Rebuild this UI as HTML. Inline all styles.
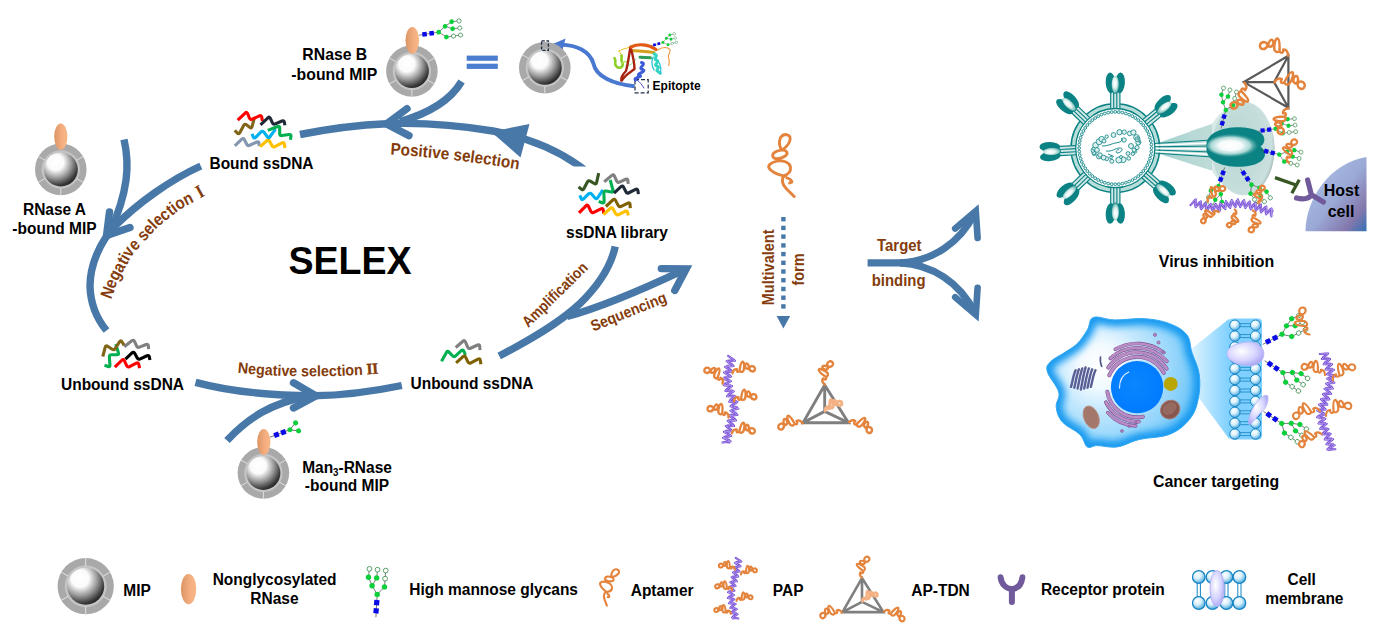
<!DOCTYPE html>
<html lang="en"><head><meta charset="utf-8"><title>SELEX multivalent aptamer scheme</title>
<style>
html,body{margin:0;padding:0;background:#fff;}
body{width:1380px;height:643px;overflow:hidden;}
svg{display:block;}
svg text{font-family:"Liberation Sans",sans-serif;font-weight:bold;}
</style></head><body>
<svg width="1380" height="643" viewBox="0 0 1380 643">
<defs>

<radialGradient id="gSphere" cx="0.37" cy="0.32" r="0.78" fx="0.34" fy="0.28">
  <stop offset="0" stop-color="#ffffff"/>
  <stop offset="0.30" stop-color="#fbfbfb"/>
  <stop offset="0.58" stop-color="#9a9a9a"/>
  <stop offset="0.84" stop-color="#383838"/>
  <stop offset="1" stop-color="#151515"/>
</radialGradient>
<linearGradient id="gRnase" x1="0" y1="0" x2="1" y2="0">
  <stop offset="0" stop-color="#dc9464"/>
  <stop offset="0.6" stop-color="#f4ae80"/>
  <stop offset="1" stop-color="#f8b888"/>
</linearGradient>
<g id="mip"><circle r="25.8" fill="#a9a9a9"/><circle r="19.200000000000003" fill="#c4c4c4"/><line x1="16.11" y1="9.30" x2="22.60" y2="13.05" stroke="#e4e4e4" stroke-width="0.9"/><line x1="0.00" y1="18.60" x2="0.00" y2="26.10" stroke="#e4e4e4" stroke-width="0.9"/><line x1="-16.11" y1="9.30" x2="-22.60" y2="13.05" stroke="#e4e4e4" stroke-width="0.9"/><line x1="-16.11" y1="-9.30" x2="-22.60" y2="-13.05" stroke="#e4e4e4" stroke-width="0.9"/><line x1="16.11" y1="-9.30" x2="22.60" y2="-13.05" stroke="#e4e4e4" stroke-width="0.9"/><circle r="17.0" fill="url(#gSphere)"/></g><g id="mipL"><circle r="25.8" fill="#a9a9a9"/><circle r="19.200000000000003" fill="#c4c4c4"/><line x1="16.11" y1="9.30" x2="22.60" y2="13.05" stroke="#e4e4e4" stroke-width="0.9"/><line x1="0.00" y1="18.60" x2="0.00" y2="26.10" stroke="#e4e4e4" stroke-width="0.9"/><line x1="-16.11" y1="9.30" x2="-22.60" y2="13.05" stroke="#e4e4e4" stroke-width="0.9"/><line x1="-16.11" y1="-9.30" x2="-22.60" y2="-13.05" stroke="#e4e4e4" stroke-width="0.9"/><line x1="16.11" y1="-9.30" x2="22.60" y2="-13.05" stroke="#e4e4e4" stroke-width="0.9"/><line x1="-0.00" y1="-18.60" x2="-0.00" y2="-26.10" stroke="#e4e4e4" stroke-width="0.9"/><circle r="17.0" fill="url(#gSphere)"/></g><g id="glycan"><line x1="0.0" y1="0.0" x2="1.3" y2="-22.9" stroke="#444" stroke-width="0.7"/><line x1="1.3" y1="-22.9" x2="-3.8" y2="-31.5" stroke="#444" stroke-width="0.7"/><line x1="1.3" y1="-22.9" x2="8.6" y2="-30.4" stroke="#444" stroke-width="0.7"/><line x1="-3.8" y1="-31.5" x2="-7.4" y2="-40.0" stroke="#444" stroke-width="0.7"/><line x1="-3.8" y1="-31.5" x2="0.8" y2="-39.4" stroke="#444" stroke-width="0.7"/><line x1="-7.4" y1="-40.0" x2="-6.5" y2="-48.4" stroke="#444" stroke-width="0.7"/><line x1="0.8" y1="-39.4" x2="1.6" y2="-47.6" stroke="#444" stroke-width="0.7"/><line x1="8.6" y1="-30.4" x2="9.2" y2="-38.6" stroke="#444" stroke-width="0.7"/><line x1="9.2" y1="-38.6" x2="9.8" y2="-46.7" stroke="#444" stroke-width="0.7"/><rect x="-2.4" y="-9.1" width="5.2" height="5.2" fill="#0a0ae6" transform="rotate(6 0.2 -6.5)"/><rect x="-1.8" y="-17.3" width="5.2" height="5.2" fill="#0a0ae6" transform="rotate(6 0.8 -14.7)"/><circle cx="1.3" cy="-22.9" r="2.7" fill="#0ccf3a"/><circle cx="-3.8" cy="-31.5" r="2.7" fill="#0ccf3a"/><circle cx="8.6" cy="-30.4" r="2.7" fill="#0ccf3a"/><circle cx="-7.4" cy="-40.0" r="2.7" fill="#0ccf3a"/><circle cx="0.8" cy="-39.4" r="2.7" fill="#0ccf3a"/><circle cx="-6.5" cy="-48.4" r="2.4" fill="#fff" stroke="#2f8a45" stroke-width="0.8"/><circle cx="1.6" cy="-47.6" r="2.4" fill="#fff" stroke="#2f8a45" stroke-width="0.8"/><circle cx="9.2" cy="-38.6" r="2.4" fill="#fff" stroke="#2f8a45" stroke-width="0.8"/><circle cx="9.8" cy="-46.7" r="2.4" fill="#fff" stroke="#2f8a45" stroke-width="0.8"/></g><g id="man3">
<line x1="0" y1="0" x2="21" y2="0" stroke="#444" stroke-width="0.7"/>
<line x1="21" y1="0" x2="28.5" y2="-4.2" stroke="#444" stroke-width="0.7"/>
<line x1="21" y1="0" x2="28.5" y2="3.8" stroke="#444" stroke-width="0.7"/>
<rect x="4.4" y="-2.5" width="5" height="5" fill="#0a0ae6"/>
<rect x="11.8" y="-2.5" width="5" height="5" fill="#0a0ae6"/>
<circle cx="21.3" cy="0" r="2.5" fill="#0ccf3a"/>
<circle cx="29" cy="-4.4" r="2.5" fill="#0ccf3a"/>
<circle cx="29" cy="4" r="2.5" fill="#0ccf3a"/>
</g><path id="apt" d="M0.00,0.00 L-7.84,-7.84 C-12.44,-12.81 -13.31,-16.79 -9.95,-21.14 M-17.41,-35.45 C-23.01,-34.20 -26.99,-31.09 -24.88,-27.99 C-23.01,-24.88 -15.30,-21.77 -11.07,-20.52 C-6.59,-21.77 -3.11,-24.25 -3.73,-29.23 C-4.35,-34.20 -10.57,-36.19 -17.41,-35.45Z M-21.52,-40.42 C-22.01,-43.53 -17.41,-46.02 -12.44,-46.39 C-6.84,-46.64 -5.60,-42.66 -9.33,-40.17 C-13.68,-37.31 -20.52,-36.69 -21.52,-40.42Z M-12.56,-46.64 C-16.54,-52.86 -14.93,-61.57 -8.71,-62.06 C-1.62,-61.57 -2.49,-53.86 -11.57,-46.64Z M-7.46,-18.66 C-4.98,-18.03 -2.49,-16.17 -2.36,-14.30 L-4.60,-13.56" fill="none" stroke="#e4843c" stroke-width="2.9" stroke-linecap="round" stroke-linejoin="round"/><path id="sapt" d="M0.00,0.00 C1.09,-2.92 3.44,-4.41 5.65,-3.31 C4.21,-1.11 5.61,0.62 7.96,-0.87 M7.96,-0.87 C9.46,-5.25 11.43,-10.36 13.44,-10.02 C15.36,-9.19 13.88,-3.05 12.36,-0.44 C10.67,1.25 8.71,0.67 7.96,-0.87Z M15.19,-5.29 C15.91,-7.71 17.90,-7.99 18.57,-6.04 C19.50,-3.57 18.50,-0.80 17.00,-1.25 C15.52,-1.86 14.61,-3.27 15.19,-5.29Z M19.11,-1.49 C19.77,-3.93 23.32,-3.75 24.65,-1.60 C25.65,0.46 24.14,3.07 22.13,2.74 C20.13,2.32 18.73,0.58 19.11,-1.49Z" fill="none" stroke-linecap="round" stroke-linejoin="round"/><clipPath id="clipPos"><rect x="280" y="100" width="320" height="66.4"/></clipPath>
<radialGradient id="gHead" cx="0.5" cy="0.5" r="0.5">
  <stop offset="0" stop-color="#e8f6f4"/>
  <stop offset="0.45" stop-color="#9fd2cf"/>
  <stop offset="1" stop-color="#0b8284"/>
</radialGradient>
<linearGradient id="gLobe" x1="0" y1="0" x2="1" y2="0">
  <stop offset="0" stop-color="#0b8284"/>
  <stop offset="0.5" stop-color="#d4eeeb"/>
  <stop offset="1" stop-color="#0b8284"/>
</linearGradient>
<linearGradient id="gCone" x1="0" y1="0" x2="1" y2="0">
  <stop offset="0" stop-color="#9fd0cc"/>
  <stop offset="1" stop-color="#c4dedc"/>
</linearGradient>
<radialGradient id="gBigEl" cx="0.38" cy="0.45" r="0.62">
  <stop offset="0" stop-color="#b4d4d2"/>
  <stop offset="0.7" stop-color="#cfe2e1"/>
  <stop offset="0.93" stop-color="#dfe9e9"/>
  <stop offset="1" stop-color="#a8b4b4"/>
</radialGradient>
<radialGradient id="gBigHi" cx="0.42" cy="0.5" r="0.5">
  <stop offset="0" stop-color="#ffffff"/>
  <stop offset="0.4" stop-color="#ffffff" stop-opacity="0.97"/>
  <stop offset="0.7" stop-color="#c8e8e5" stop-opacity="0.85"/>
  <stop offset="1" stop-color="#4aa6a4" stop-opacity="0"/>
</radialGradient>
<linearGradient id="gHost" x1="0.15" y1="0.2" x2="0.95" y2="1">
  <stop offset="0" stop-color="#a9bde3"/>
  <stop offset="0.45" stop-color="#9aa9d6"/>
  <stop offset="0.8" stop-color="#8478ac"/>
  <stop offset="1" stop-color="#3f72b4"/>
</linearGradient>

<radialGradient id="gSpHi" cx="0.45" cy="0.42" r="0.6">
  <stop offset="0" stop-color="#ffffff"/>
  <stop offset="0.45" stop-color="#e4f4f2"/>
  <stop offset="0.8" stop-color="#8cc8c4"/>
  <stop offset="1" stop-color="#3a9a98"/>
</radialGradient>
<g id="spike">
<rect x="-4.9" y="-55.5" width="9.8" height="16" fill="#cfe8e5"/>
<path d="M-4.6,-39.5 V-55.5 M-1.6,-39.5 V-55.5 M1.5,-39.5 V-55.5 M4.6,-39.5 V-55.5" stroke="#0b8284" stroke-width="1.15" fill="none"/>
<ellipse cx="-4.7" cy="-65.3" rx="4.9" ry="10.4" fill="#0b8284" transform="rotate(-4 -4.7 -65.3)"/>
<ellipse cx="4.7" cy="-65.3" rx="4.9" ry="10.4" fill="#0b8284" transform="rotate(4 4.7 -65.3)"/>
<ellipse cx="0" cy="-63" rx="5" ry="8.6" fill="#0b8284"/>
<ellipse cx="0" cy="-63.6" rx="3.6" ry="8.7" fill="url(#gSpHi)"/>
</g>
<radialGradient id="gCell" gradientUnits="userSpaceOnUse" cx="1100" cy="366" r="105" >
  <stop offset="0" stop-color="#ffffff"/>
  <stop offset="0.2" stop-color="#f2faff"/>
  <stop offset="0.45" stop-color="#bfe6fd"/>
  <stop offset="0.75" stop-color="#8fd3fb"/>
  <stop offset="1" stop-color="#5cbdf7"/>
</radialGradient>
<linearGradient id="gCone2" x1="0" y1="0" x2="1" y2="0">
  <stop offset="0" stop-color="#e2f5ff"/>
  <stop offset="1" stop-color="#7fd0ff"/>
</linearGradient>
<radialGradient id="gBall" cx="0.38" cy="0.32" r="0.7">
  <stop offset="0" stop-color="#ffffff"/>
  <stop offset="0.45" stop-color="#d9f0fb"/>
  <stop offset="1" stop-color="#4aa8dc"/>
</radialGradient>
<radialGradient id="gProt" cx="0.4" cy="0.4" r="0.65">
  <stop offset="0" stop-color="#ffffff"/>
  <stop offset="0.6" stop-color="#d6d4ff"/>
  <stop offset="1" stop-color="#a9a6f4"/>
</radialGradient>
<radialGradient id="gNuc" cx="0.45" cy="0.45" r="0.6">
  <stop offset="0" stop-color="#0a86ff"/>
  <stop offset="1" stop-color="#007aff"/>
</radialGradient>
<filter id="blur3" x="-20%" y="-20%" width="140%" height="140%"><feGaussianBlur stdDeviation="3.6"/></filter>
<clipPath id="cellClip"><path d="M1093.5,317.4 C1098.5,315.6 1105.3,319.7 1114.7,319.9 C1124.1,320.1 1134.6,318.0 1144.6,318.7 C1154.6,319.4 1161.6,320.6 1169.4,323.6 C1177.2,326.6 1182.8,329.6 1186.9,334.9 C1191.0,340.2 1189.6,345.0 1191.9,352.3 C1194.2,359.6 1198.2,366.0 1199.3,374.7 C1200.4,383.4 1199.9,391.4 1198.1,399.6 C1196.3,407.8 1194.7,413.1 1189.4,419.5 C1184.1,425.9 1178.5,430.8 1169.4,434.4 C1160.3,438.0 1149.2,437.1 1139.6,439.4 C1130.0,441.7 1125.0,445.8 1117.2,446.9 C1109.4,448.0 1102.8,445.6 1097.3,445.6 C1091.8,445.6 1090.5,449.0 1087.3,446.9 C1084.1,444.8 1084.4,439.0 1079.8,434.4 C1075.2,429.8 1066.7,427.0 1062.4,422.0 C1058.1,417.0 1056.9,412.5 1056.2,407.0 C1055.5,401.5 1060.3,398.5 1058.7,392.1 C1057.1,385.7 1049.1,377.7 1047.5,372.2 C1045.9,366.7 1046.8,365.8 1050.0,362.2 C1053.2,358.6 1059.9,355.7 1064.9,352.3 C1069.9,348.9 1073.2,347.7 1077.3,343.6 C1081.4,339.5 1084.3,334.7 1087.3,329.9 C1090.3,325.1 1088.5,319.2 1093.5,317.4Z"/></clipPath>
</defs>
<rect width="1380" height="643" fill="#fff"/>
<g id="selex-arrows">
<g clip-path="url(#clipPos)"><path d="M586,171 L580,166.5 C560,152 530,138 492.9,131 C460,125.5 420,122.5 387,123.7 C355,125 325,129.5 300,134.5" fill="none" stroke="#4878a8" stroke-width="7.4" stroke-linecap="butt" stroke-linejoin="round"/></g>
<path d="M491,131.8 L529.5,124 L520.5,157.5 Z" fill="#4878a8"/>
<path d="M461.6,81.5 C450,101 430,113 400,121.5" fill="none" stroke="#4878a8" stroke-width="7.4" stroke-linecap="butt" stroke-linejoin="round"/>
<path d="M407,108.6 L386.5,124 L409,135.6" fill="none" stroke="#4878a8" stroke-width="7.4" stroke-linecap="round" stroke-linejoin="miter"/>
<path d="M200.8,166 C170,180 138,203 115,226 C100,242 90,265 90,286 C90.5,305 97,319 106.5,330.5" fill="none" stroke="#4878a8" stroke-width="7.4" stroke-linecap="butt" stroke-linejoin="round"/>
<path d="M124,139.5 C130,165 128,192 110,232" fill="none" stroke="#4878a8" stroke-width="7.4" stroke-linecap="butt" stroke-linejoin="round"/>
<path d="M109.5,212 L106.5,235.5 L130,227.5" fill="none" stroke="#4878a8" stroke-width="7.4" stroke-linecap="round" stroke-linejoin="miter"/>
<path d="M195.5,382.3 C230,391.5 270,395.5 314,395.8 C345,395.5 375,391 401.8,385.5" fill="none" stroke="#4878a8" stroke-width="7.4" stroke-linecap="butt" stroke-linejoin="round"/>
<path d="M227,440.5 C248,418 272,402.5 308,396.5" fill="none" stroke="#4878a8" stroke-width="7.4" stroke-linecap="butt" stroke-linejoin="round"/>
<path d="M293.5,382.8 L316,395.8 L293.5,408" fill="none" stroke="#4878a8" stroke-width="7.4" stroke-linecap="round" stroke-linejoin="miter"/>
<path d="M499.2,356 C530,340 558,324 580,303.5 C599,285 611,266 615.2,246.5" fill="none" stroke="#4878a8" stroke-width="7.4" stroke-linecap="butt" stroke-linejoin="round"/>
<path d="M567,316.5 C598,308 638,291.5 683,270.3" fill="none" stroke="#4878a8" stroke-width="7.4" stroke-linecap="butt" stroke-linejoin="round"/>
<path d="M661.3,268.6 L686.2,268.8 L674.8,290.4" fill="none" stroke="#4878a8" stroke-width="7.4" stroke-linecap="round" stroke-linejoin="miter"/>
</g>
<rect x="466.7" y="55.6" width="31.1" height="5.2" fill="#4a7cd0"/>
<rect x="466.7" y="63.7" width="31.1" height="5.2" fill="#4a7cd0"/>
<path d="M634.6,86.2 C612,84 596,76 593.6,64 C590,51 576,45 561,44.6" fill="none" stroke="#4878d0" stroke-width="3.9"/>
<path d="M551.5,44.6 L565.6,38.6 L562.4,50.2 Z" fill="#4878d0"/>
<use href="#mip" transform="translate(60.8 169.4)"/>
<ellipse cx="60.8" cy="136.6" rx="6.6" ry="13.2" fill="url(#gRnase)"/>
<use href="#mip" transform="translate(411.9 71.0)"/>
<ellipse cx="412.3" cy="40.3" rx="6.8" ry="13.4" fill="url(#gRnase)"/>
<use href="#glycan" transform="translate(419.0 35.2) rotate(78.0) scale(0.870)"/>
<use href="#mip" transform="translate(544.8 67.7)"/>
<rect x="541.6" y="40.8" width="6.8" height="9.6" fill="none" stroke="#1f2e45" stroke-width="1.3" stroke-dasharray="3.2 1.6"/>
<use href="#mip" transform="translate(263.4 472.9)"/>
<ellipse cx="263.8" cy="442.0" rx="6.6" ry="13.0" fill="url(#gRnase)"/>
<use href="#man3" transform="translate(270.0 437.2) rotate(-20.5)"/>
<rect x="635" y="79.6" width="13.2" height="13.2" fill="none" stroke="#1f2e45" stroke-width="1.2" stroke-dasharray="4 2"/>
<g id="protein" fill="none" stroke-linecap="round" stroke-linejoin="round">
<path d="M619,51 C622,48.5 628,48.5 630,47" stroke="#f0c020" stroke-width="1"/>
<path d="M619,51 C621,54 622,55 621,57" stroke="#f0c020" stroke-width="1"/>
<path d="M614.5,58 C617,62 613,64 617,67 C621,69 624,66 622,62 C620,58 623,57 621.5,55.5" stroke="#8fd02a" stroke-width="2.6"/>
<path d="M622,63 C626,60 629,62 627,66" stroke="#b8e060" stroke-width="1.4"/>
<path d="M631,50.5 C640,51 648,51.5 654,52.5" stroke="#d4a01c" stroke-width="3"/>
<path d="M640,57.2 L650.5,57.8" stroke="#2f9d58" stroke-width="3"/>
<path d="M626,66 C630,66 633,63 636,59" stroke="#90e0a0" stroke-width="1"/>
<path d="M654,54 C660,55.5 652.5,58.5 656,60 C661.5,61.5 652.5,64.5 656.5,66 C662,67.5 654,70 658,71.5 L660.3,73.3" stroke="#34d4c4" stroke-width="2.9"/>
<path d="M653.2,57 C651,61.5 652,66.5 654,70 M659.5,63 C660.8,66 661,70 660.6,73.5" stroke="#2ec4d6" stroke-width="1.3"/>
<path d="M641.5,62.5 C647.5,64 637,68 642.5,69.5 C648,71.5 634.5,74 639.5,75.5 C644,77 632.5,77.5 635.5,80" stroke="#3c5cd8" stroke-width="3"/>
<path d="M637,80 C640,82 642,85 644,88" stroke="#4a4ad0" stroke-width="1"/>
<path d="M621.2,80.5 C621,77 623,74 626,71 C628.5,62 629,54 630.5,47 C633,56 634.5,64 634.5,69 C630,72.5 625.5,74.5 621.8,80.5" stroke="#a82410" stroke-width="2.4"/>
<path d="M631,47 C638,43.5 648,44 656,49.5" stroke="#e25a14" stroke-width="3.2"/>
<path d="M658,50 C662,46.5 668,47 670,49.5 C671,53 667,55 668.5,58 C670,60 669,63 668.8,65.5" stroke="#f09030" stroke-width="1.1"/>
</g>
<use href="#glycan" transform="translate(651.3 45.9) rotate(70.0) scale(0.530)"/>
<path d="M234.80,130.40 L237.20,132.99 Q238.70,134.60 239.75,132.66 L243.65,125.44 Q244.70,123.50 246.45,124.84 L249.75,127.36 Q251.50,128.70 252.05,126.57 L254.50,117.10" fill="none" stroke="#806517" stroke-width="3.1" stroke-linejoin="round"/>
<path d="M237.70,120.10 L245.20,113.01 Q246.80,111.50 247.61,113.55 L249.39,118.05 Q250.20,120.10 252.20,119.19 L259.40,115.91 Q261.40,115.00 261.76,117.17 L262.40,121.00" fill="none" stroke="#ff0000" stroke-width="3.1" stroke-linejoin="round"/>
<path d="M260.50,124.80 L267.90,117.81 Q269.50,116.30 270.40,118.31 L272.40,122.79 Q273.30,124.80 275.31,123.92 L281.99,120.98 Q284.00,120.10 284.38,122.27 L284.90,125.20" fill="none" stroke="#1f2937" stroke-width="3.1" stroke-linejoin="round"/>
<path d="M234.80,145.80 L241.81,139.12 Q243.40,137.60 244.38,139.57 L246.72,144.23 Q247.70,146.20 249.70,145.28 L256.80,142.02 Q258.80,141.10 258.97,143.29 L259.20,146.20" fill="none" stroke="#8497b0" stroke-width="3.1" stroke-linejoin="round"/>
<path d="M260.10,146.60 L266.93,140.73 Q268.60,139.30 269.62,141.25 L271.88,145.55 Q272.90,147.50 274.86,146.51 L282.04,142.89 Q284.00,141.90 284.33,144.08 L284.90,147.90" fill="none" stroke="#ffc000" stroke-width="3.1" stroke-linejoin="round"/>
<path d="M252.00,133.80 L253.26,136.87 Q254.10,138.90 255.66,137.34 L261.04,131.96 Q262.60,130.40 263.91,132.17 L267.29,136.73 Q268.60,138.50 269.90,136.73 L275.50,129.10" fill="none" stroke="#00b0f0" stroke-width="3.1" stroke-linejoin="round"/>
<path d="M267.80,130.40 L277.65,126.51 Q279.70,125.70 279.70,127.90 L279.70,133.70 Q279.70,135.90 281.88,135.58 L289.12,134.52 Q291.30,134.20 290.95,136.37 L290.40,139.80" fill="none" stroke="#00b050" stroke-width="3.1" stroke-linejoin="round"/>
<path d="M578.60,186.80 L581.19,189.20 Q582.80,190.70 583.82,188.75 L587.38,181.95 Q588.40,180.00 590.28,181.15 L594.22,183.55 Q596.10,184.70 596.58,182.55 L598.70,173.10" fill="none" stroke="#375623" stroke-width="3.1" stroke-linejoin="round"/>
<path d="M604.20,181.70 L611.90,175.39 Q613.60,174.00 614.47,176.02 L616.63,180.98 Q617.50,183.00 619.50,182.08 L625.70,179.22 Q627.70,178.30 627.90,180.49 L628.20,183.80" fill="none" stroke="#808080" stroke-width="3.1" stroke-linejoin="round"/>
<path d="M579.80,195.40 L581.13,198.48 Q582.00,200.50 583.56,198.94 L588.54,193.96 Q590.10,192.40 591.56,194.04 L595.04,197.96 Q596.50,199.60 597.70,197.76 L602.90,189.80" fill="none" stroke="#00b0f0" stroke-width="3.1" stroke-linejoin="round"/>
<path d="M610.20,180.00 L613.02,190.28 Q613.60,192.40 611.43,192.02 L605.97,191.08 Q603.80,190.70 603.87,192.90 L604.13,201.30 Q604.20,203.50 602.14,202.72 L598.70,201.40" fill="none" stroke="#00b050" stroke-width="3.1" stroke-linejoin="round"/>
<path d="M614.00,193.20 L621.00,186.61 Q622.60,185.10 623.58,187.07 L625.92,191.73 Q626.90,193.70 628.88,192.74 L635.62,189.46 Q637.60,188.50 637.91,190.68 L638.40,194.10" fill="none" stroke="#1f2937" stroke-width="3.1" stroke-linejoin="round"/>
<path d="M605.90,206.50 L612.90,199.91 Q614.50,198.40 615.53,200.35 L618.17,205.35 Q619.20,207.30 621.19,206.35 L627.91,203.15 Q629.90,202.20 630.05,204.40 L630.30,208.20" fill="none" stroke="#7f6000" stroke-width="3.1" stroke-linejoin="round"/>
<path d="M579.00,212.90 L585.95,205.86 Q587.50,204.30 588.45,206.29 L590.85,211.31 Q591.80,213.30 593.77,212.32 L600.93,208.78 Q602.90,207.80 603.23,209.98 L603.80,213.80" fill="none" stroke="#ff0000" stroke-width="3.1" stroke-linejoin="round"/>
<path d="M603.40,214.60 L610.27,208.38 Q611.90,206.90 612.96,208.83 L615.54,213.57 Q616.60,215.50 618.58,214.54 L625.32,211.26 Q627.30,210.30 627.68,212.47 L628.20,215.50" fill="none" stroke="#ffc000" stroke-width="3.1" stroke-linejoin="round"/>
<path d="M115.70,344.10 L118.43,352.70 Q119.10,354.80 116.90,354.80 L111.40,354.80 Q109.20,354.80 109.36,356.99 L109.94,365.01 Q110.10,367.20 108.04,366.43 L104.50,365.10" fill="none" stroke="#00b050" stroke-width="3.1" stroke-linejoin="round"/>
<path d="M102.80,356.50 L105.24,347.13 Q105.80,345.00 107.63,346.23 L112.17,349.27 Q114.00,350.50 115.18,348.64 L119.62,341.66 Q120.80,339.80 121.94,341.68 L124.20,345.40" fill="none" stroke="#806517" stroke-width="3.1" stroke-linejoin="round"/>
<path d="M124.20,346.70 L131.86,340.75 Q133.60,339.40 134.51,341.40 L136.59,346.00 Q137.50,348.00 139.54,347.18 L146.16,344.52 Q148.20,343.70 148.36,345.89 L148.60,349.20" fill="none" stroke="#808080" stroke-width="3.1" stroke-linejoin="round"/>
<path d="M114.80,367.20 L121.84,360.25 Q123.40,358.70 124.34,360.69 L126.66,365.61 Q127.60,367.60 129.56,366.59 L136.34,363.11 Q138.30,362.10 138.77,364.25 L139.60,368.10" fill="none" stroke="#ff0000" stroke-width="3.1" stroke-linejoin="round"/>
<path d="M125.50,359.10 L132.01,352.92 Q133.60,351.40 134.66,353.33 L137.24,357.97 Q138.30,359.90 140.29,358.95 L147.01,355.75 Q149.00,354.80 149.38,356.97 L149.90,359.90" fill="none" stroke="#000" stroke-width="3.1" stroke-linejoin="round"/>
<path d="M455.70,347.50 L462.94,341.24 Q464.60,339.80 465.44,341.83 L467.66,347.17 Q468.50,349.20 470.50,348.28 L477.60,345.02 Q479.60,344.10 479.75,346.30 L480.00,350.10" fill="none" stroke="#808080" stroke-width="3.1" stroke-linejoin="round"/>
<path d="M441.50,361.20 L446.42,352.42 Q447.50,350.50 449.01,352.10 L452.49,355.80 Q454.00,357.40 455.62,355.91 L461.28,350.69 Q462.90,349.20 463.83,351.20 L465.50,354.80" fill="none" stroke="#00b050" stroke-width="3.1" stroke-linejoin="round"/>
<path d="M456.10,362.90 L462.97,356.68 Q464.60,355.20 465.58,357.17 L467.92,361.83 Q468.90,363.80 470.86,362.81 L478.04,359.19 Q480.00,358.20 480.33,360.38 L480.90,364.20" fill="none" stroke="#7f6000" stroke-width="3.1" stroke-linejoin="round"/>
<text transform="translate(334.8 60.3) scale(0.925 1)" font-size="17.08" text-anchor="middle">RNase B</text>
<text transform="translate(334.3 80.1) scale(0.925 1)" font-size="17.08" text-anchor="middle">-bound MIP</text>
<text transform="translate(261.5 168.7) scale(0.925 1)" font-size="16.76" text-anchor="middle">Bound ssDNA</text>
<text transform="translate(54.5 215.3) scale(0.925 1)" font-size="16.76" text-anchor="middle">RNase A</text>
<text transform="translate(54.5 234.2) scale(0.925 1)" font-size="16.76" text-anchor="middle">-bound MIP</text>
<text transform="translate(350 273.7) scale(0.95 1)" font-size="39.58" text-anchor="middle">SELEX</text>
<text transform="translate(122.5 389.5) scale(0.925 1)" font-size="16.76" text-anchor="middle">Unbound ssDNA</text>
<text transform="translate(472 388.8) scale(0.925 1)" font-size="16.76" text-anchor="middle">Unbound ssDNA</text>
<text transform="translate(617 238) scale(0.925 1)" font-size="16.76" text-anchor="middle">ssDNA library</text>
<text transform="translate(347 473) scale(0.925 1)" font-size="16.76" text-anchor="middle">Man<tspan font-size="10.5" dy="3.2">3</tspan><tspan dy="-3.2">-RNase</tspan></text>
<text transform="translate(347 491.3) scale(0.925 1)" font-size="16.76" text-anchor="middle">-bound MIP</text>
<text transform="translate(652.6 90) scale(0.925 1)" font-size="12.97" text-anchor="start">Epitopte</text>
<path id="posP" d="M390.2,154.5 Q455,158.6 521,169.8" fill="none"/>
<text font-size="16.8" fill="#843c0c" textLength="129.5" lengthAdjust="spacingAndGlyphs"><textPath href="#posP">Positive selection</textPath></text>
<path id="negI" d="M106.5,312.0 C107.9,307.9 104.5,314.8 110.8,299.8 C117.1,284.8 114.1,286.7 125.5,267.1 C136.9,247.5 129.9,257.9 145.1,241.0 C160.3,224.1 153.8,230.1 171.2,216.5 C188.6,202.9 184.2,207.8 197.3,200.2 C210.4,192.6 201.2,198.1 210.4,193.7 C219.6,189.3 220.1,189.2 225.0,187.0" fill="none"/>
<text font-size="17.2" fill="#843c0c" textLength="145" lengthAdjust="spacingAndGlyphs"><textPath href="#negI" startOffset="13">Negative selection <tspan font-family="Liberation Serif,serif" font-size="19" dx="2">I</tspan></textPath></text>
<path id="negII" d="M237.6,372.8 Q305,379.6 380,373.4" fill="none"/>
<text font-size="15.3" fill="#843c0c" textLength="141" lengthAdjust="spacingAndGlyphs"><textPath href="#negII">Negative selection <tspan font-family="Liberation Serif,serif" font-size="15.5" stroke="#843c0c" stroke-width="0.5">II</tspan></textPath></text>
<text transform="translate(528.3 328.0) rotate(-44.5) scale(0.87 1)" font-size="15.40" fill="#843c0c" text-anchor="start">Amplification</text>
<text transform="translate(593.2 331.4) rotate(-21.8) scale(0.925 1)" font-size="15.35" fill="#843c0c" text-anchor="start">Sequencing</text>
<use href="#apt" transform="translate(794.2 196.5)"/>
<rect x="781.2" y="217.0" width="4.4" height="4.4" fill="#4878a8"/><rect x="781.2" y="225.7" width="4.4" height="4.4" fill="#4878a8"/><rect x="781.2" y="234.4" width="4.4" height="4.4" fill="#4878a8"/><rect x="781.2" y="243.2" width="4.4" height="4.4" fill="#4878a8"/><rect x="781.2" y="251.9" width="4.4" height="4.4" fill="#4878a8"/><rect x="781.2" y="260.6" width="4.4" height="4.4" fill="#4878a8"/><rect x="781.2" y="269.3" width="4.4" height="4.4" fill="#4878a8"/><rect x="781.2" y="278.0" width="4.4" height="4.4" fill="#4878a8"/><rect x="781.2" y="286.8" width="4.4" height="4.4" fill="#4878a8"/><rect x="781.2" y="295.5" width="4.4" height="4.4" fill="#4878a8"/><rect x="781.2" y="304.2" width="4.4" height="4.4" fill="#4878a8"/>
<path d="M776.6,316 L790.2,316 L783.4,328.6 Z" fill="#4878a8"/>
<text transform="translate(774.3 305.2) rotate(-90) scale(0.925 1)" font-size="15.68" fill="#843c0c" text-anchor="start">Multivalent</text>
<text transform="translate(803.7 285.6) rotate(-90) scale(0.925 1)" font-size="15.68" fill="#843c0c" text-anchor="start">form</text>
<g transform="translate(695 350) scale(1.0)"><path d="M37.0,7.0L36.7,8.0L36.5,8.9L36.2,9.9L35.9,10.8L35.6,11.8L35.4,12.8L35.1,13.7L34.8,14.7L34.6,15.7L34.3,16.6L34.1,17.6L33.8,18.6L33.6,19.5L33.4,20.5L33.2,21.5L33.0,22.5L32.7,23.4L32.5,24.4L32.3,25.4L32.2,26.4L32.0,27.4L32.0,28.4L31.9,29.4L32.0,30.4L32.0,31.4L32.2,32.4L32.3,33.4L32.6,34.3L32.8,35.3L33.1,36.3L33.4,37.2L33.7,38.2L34.0,39.1L34.3,40.1L34.6,41.0L34.9,42.0L35.2,42.9L35.5,43.9L35.8,44.9L36.1,45.8L36.4,46.7L36.8,47.7L37.1,48.6L37.5,49.5L37.9,50.5L38.2,51.4L38.5,52.4L38.8,53.3L39.1,54.3L39.3,55.3L39.4,56.2L39.5,57.2L39.5,58.2L39.5,59.2L39.4,60.2L39.2,61.2L39.0,62.2L38.8,63.2L38.6,64.2L38.4,65.1L38.1,66.1L37.8,67.1L37.5,68.0L37.3,69.0L37.0,69.9L36.7,70.9L36.5,71.9L36.1,72.8L35.8,73.8L35.5,74.7L35.1,75.6L34.8,76.6L34.4,77.5L34.1,78.5L33.8,79.4L33.5,80.4L33.2,81.3L32.9,82.3L32.7,83.3L32.5,84.2L32.4,85.2L32.2,86.2L32.1,87.2L32.0,88.2L31.9,89.2L31.8,90.2L31.7,91.2L31.6,92.2L31.5,93.0" fill="none" stroke="#ece5fb" stroke-width="5.6"/><path d="M39.9,9.3L32.6,10.1L38.4,14.6L31.1,15.6L37.0,19.9L29.8,21.1L35.8,25.3L28.7,27.1L35.3,30.0L28.9,33.6L36.2,34.8L30.5,39.4L37.8,40.0L32.2,44.7L39.5,45.2L34.1,50.2L41.5,50.5L35.8,55.1L42.9,56.9L36.0,59.5L42.3,63.3L35.0,64.4L40.8,68.9L33.5,69.8L39.2,74.5L31.8,74.8L37.2,79.8L29.9,80.4L35.9,84.6L28.8,86.4L35.2,89.9L28.2,92.0L34.9,93.4" fill="none" stroke="#8e6be2" stroke-width="0.9" stroke-linejoin="round"/><path d="M33.1,5.9L40.1,10.8L31.6,11.3L38.6,16.1L30.1,16.8L37.3,21.4L28.9,22.4L36.2,26.6L27.9,28.7L36.0,31.1L28.7,35.3L37.1,35.9L30.3,40.9L38.8,41.2L32.0,46.3L40.5,46.2L34.1,51.7L42.5,51.8L35.4,56.3L43.5,58.6L35.3,60.6L42.5,64.9L34.1,65.6L41.0,70.4L32.6,70.8L39.2,76.1L30.7,75.9L37.4,81.2L28.9,81.8L36.3,86.0L28.0,87.8L35.7,91.4L27.5,92.5" fill="none" stroke="#6b3ed2" stroke-width="2.0" stroke-linejoin="round" stroke-linecap="round"/><path d="M33.1,5.9L40.1,10.8L31.6,11.3L38.6,16.1L30.1,16.8L37.3,21.4L28.9,22.4L36.2,26.6L27.9,28.7L36.0,31.1L28.7,35.3L37.1,35.9L30.3,40.9L38.8,41.2L32.0,46.3L40.5,46.2L34.1,51.7L42.5,51.8L35.4,56.3L43.5,58.6L35.3,60.6L42.5,64.9L34.1,65.6L41.0,70.4L32.6,70.8L39.2,76.1L30.7,75.9L37.4,81.2L28.9,81.8L36.3,86.0L28.0,87.8L35.7,91.4L27.5,92.5" fill="none" stroke="#e6defa" stroke-width="0.55" stroke-linejoin="round" stroke-linecap="round"/><use href="#sapt" transform="translate(37.5 23.3) rotate(-12.0) scale(0.920)" stroke="#e4843c" stroke-width="2.61"/><use href="#sapt" transform="translate(39.0 51.3) rotate(-12.0) scale(0.920)" stroke="#e4843c" stroke-width="2.61"/><use href="#sapt" transform="translate(37.0 83.2) rotate(-6.0) scale(0.920)" stroke="#e4843c" stroke-width="2.61"/><use href="#sapt" transform="translate(27.5 33.5) rotate(220.0) scale(0.920 -0.920)" stroke="#e4843c" stroke-width="2.61"/><use href="#sapt" transform="translate(33.5 67.5) rotate(205.0) scale(0.920 -0.920)" stroke="#e4843c" stroke-width="2.61"/></g>
<g transform="translate(770 350) scale(1.0)"><path d="M54.7,35 L33,72.8 L78.5,72.8 Z M54.7,35 L54.7,61.4 M33,72.8 L54.7,61.4 M78.5,72.8 L54.7,61.4" fill="none" stroke="#7f7f7f" stroke-width="2.9" stroke-linejoin="miter"/><use href="#sapt" transform="translate(55.2 60.9) rotate(-27.0) scale(0.740)" stroke="#f4b183" stroke-width="4.05"/><use href="#sapt" transform="translate(54.7 34.5) rotate(-74.5) scale(0.960)" stroke="#e4843c" stroke-width="2.50"/><use href="#sapt" transform="translate(32.5 73.3) rotate(170.5) scale(0.980 -0.980)" stroke="#e4843c" stroke-width="2.45"/><use href="#sapt" transform="translate(79.0 72.3) rotate(21.5) scale(0.980)" stroke="#e4843c" stroke-width="2.45"/></g>
<path d="M867.6,262.9 L917,262.9" fill="none" stroke="#4878a8" stroke-width="7.2" stroke-linecap="butt" stroke-linejoin="round"/>
<path d="M900,262.9 C932,261.5 960,243 974.5,213.5" fill="none" stroke="#4878a8" stroke-width="7.2" stroke-linecap="butt" stroke-linejoin="round"/>
<path d="M900,262.9 C932,264.3 960,282.8 974.5,312.3" fill="none" stroke="#4878a8" stroke-width="7.2" stroke-linecap="butt" stroke-linejoin="round"/>
<path d="M955.2,228.6 L975.8,211 L977.6,238" fill="none" stroke="#4878a8" stroke-width="6.6" stroke-linecap="round" stroke-linejoin="miter"/>
<path d="M955.2,297.2 L975.8,314.8 L977.6,287.8" fill="none" stroke="#4878a8" stroke-width="6.6" stroke-linecap="round" stroke-linejoin="miter"/>
<text transform="translate(899.3 250.9) scale(0.925 1)" font-size="16.11" fill="#843c0c" text-anchor="middle">Target</text>
<text transform="translate(898.6 286) scale(0.925 1)" font-size="16.11" fill="#843c0c" text-anchor="middle">binding</text>
<g id="virus">
<path d="M1158,143 L1212,124 L1212,170.5 L1158,153.5 Z" fill="url(#gCone)"/>
<ellipse cx="1243.2" cy="148.6" rx="31.4" ry="46.6" fill="url(#gBigEl)"/>
<path d="M1212,124 C1222,108 1236,101.5 1246,102 C1262,103 1273,122 1274.4,148 C1273,176 1262,194 1246,195.2 C1236,195.5 1222,189 1212,170.5 L1190,164 L1190,131 Z" fill="#b9d9d6" opacity="0.55"/>
<circle cx="1115.3" cy="148.1" r="44.3" fill="#b8deda" stroke="#0b8284" stroke-width="1.5"/>
<use href="#spike" transform="translate(1115.3 148.1) rotate(0)"/>
<use href="#spike" transform="translate(1115.3 148.1) rotate(50.5)"/>
<use href="#spike" transform="translate(1115.3 148.1) rotate(131.6)"/>
<use href="#spike" transform="translate(1115.3 148.1) rotate(180)"/>
<use href="#spike" transform="translate(1115.3 148.1) rotate(226)"/>
<use href="#spike" transform="translate(1115.3 148.1) rotate(267)"/>
<use href="#spike" transform="translate(1115.3 148.1) rotate(313.5)"/>
<path d="M1154,143.5 L1212,140 M1154,146.8 L1212,146 M1154,150 L1212,152 M1154,153 L1212,157" stroke="#0b8284" stroke-width="1.2" fill="none"/>
<path d="M1154,145.2 L1212,143 M1154,148.4 L1212,149 M1154,151.5 L1212,154.5" stroke="#ffffff" stroke-width="1.6" fill="none"/>
<circle cx="1115.3" cy="148.1" r="39.6" fill="#ffffff" stroke="#0b8284" stroke-width="1.3"/>
<g fill="#eef8f7" stroke="#0b8284" stroke-width="0.85"><circle cx="1151.50" cy="148.10" r="1.4"/><circle cx="1151.33" cy="151.65" r="1.4"/><circle cx="1150.80" cy="155.16" r="1.4"/><circle cx="1149.94" cy="158.61" r="1.4"/><circle cx="1148.74" cy="161.95" r="1.4"/><circle cx="1147.23" cy="165.16" r="1.4"/><circle cx="1145.40" cy="168.21" r="1.4"/><circle cx="1143.28" cy="171.07" r="1.4"/><circle cx="1140.90" cy="173.70" r="1.4"/><circle cx="1138.27" cy="176.08" r="1.4"/><circle cx="1135.41" cy="178.20" r="1.4"/><circle cx="1132.36" cy="180.03" r="1.4"/><circle cx="1129.15" cy="181.54" r="1.4"/><circle cx="1125.81" cy="182.74" r="1.4"/><circle cx="1122.36" cy="183.60" r="1.4"/><circle cx="1118.85" cy="184.13" r="1.4"/><circle cx="1115.30" cy="184.30" r="1.4"/><circle cx="1111.75" cy="184.13" r="1.4"/><circle cx="1108.24" cy="183.60" r="1.4"/><circle cx="1104.79" cy="182.74" r="1.4"/><circle cx="1101.45" cy="181.54" r="1.4"/><circle cx="1098.24" cy="180.03" r="1.4"/><circle cx="1095.19" cy="178.20" r="1.4"/><circle cx="1092.33" cy="176.08" r="1.4"/><circle cx="1089.70" cy="173.70" r="1.4"/><circle cx="1087.32" cy="171.07" r="1.4"/><circle cx="1085.20" cy="168.21" r="1.4"/><circle cx="1083.37" cy="165.16" r="1.4"/><circle cx="1081.86" cy="161.95" r="1.4"/><circle cx="1080.66" cy="158.61" r="1.4"/><circle cx="1079.80" cy="155.16" r="1.4"/><circle cx="1079.27" cy="151.65" r="1.4"/><circle cx="1079.10" cy="148.10" r="1.4"/><circle cx="1079.27" cy="144.55" r="1.4"/><circle cx="1079.80" cy="141.04" r="1.4"/><circle cx="1080.66" cy="137.59" r="1.4"/><circle cx="1081.86" cy="134.25" r="1.4"/><circle cx="1083.37" cy="131.04" r="1.4"/><circle cx="1085.20" cy="127.99" r="1.4"/><circle cx="1087.32" cy="125.13" r="1.4"/><circle cx="1089.70" cy="122.50" r="1.4"/><circle cx="1092.33" cy="120.12" r="1.4"/><circle cx="1095.19" cy="118.00" r="1.4"/><circle cx="1098.24" cy="116.17" r="1.4"/><circle cx="1101.45" cy="114.66" r="1.4"/><circle cx="1104.79" cy="113.46" r="1.4"/><circle cx="1108.24" cy="112.60" r="1.4"/><circle cx="1111.75" cy="112.07" r="1.4"/><circle cx="1115.30" cy="111.90" r="1.4"/><circle cx="1118.85" cy="112.07" r="1.4"/><circle cx="1122.36" cy="112.60" r="1.4"/><circle cx="1125.81" cy="113.46" r="1.4"/><circle cx="1129.15" cy="114.66" r="1.4"/><circle cx="1132.36" cy="116.17" r="1.4"/><circle cx="1135.41" cy="118.00" r="1.4"/><circle cx="1138.27" cy="120.12" r="1.4"/><circle cx="1140.90" cy="122.50" r="1.4"/><circle cx="1143.28" cy="125.13" r="1.4"/><circle cx="1145.40" cy="127.99" r="1.4"/><circle cx="1147.23" cy="131.04" r="1.4"/><circle cx="1148.74" cy="134.25" r="1.4"/><circle cx="1149.94" cy="137.59" r="1.4"/><circle cx="1150.80" cy="141.04" r="1.4"/><circle cx="1151.33" cy="144.55" r="1.4"/></g>
<g fill="#dff1ef" stroke="#0b8284" stroke-width="0.8"><circle cx="1138.3" cy="142.5" r="2.5"/><circle cx="1137.0" cy="147.6" r="2.1"/><circle cx="1135.0" cy="151.5" r="1.7"/><circle cx="1132.8" cy="153.8" r="1.7"/><circle cx="1128.7" cy="158.4" r="1.8"/><circle cx="1123.2" cy="159.7" r="2.9"/><circle cx="1118.8" cy="160.0" r="3.0"/><circle cx="1111.8" cy="161.3" r="2.0"/><circle cx="1106.7" cy="158.7" r="2.0"/><circle cx="1103.6" cy="157.6" r="2.4"/><circle cx="1098.9" cy="156.5" r="2.4"/><circle cx="1094.3" cy="153.7" r="1.9"/><circle cx="1093.9" cy="152.6" r="2.0"/><circle cx="1093.0" cy="150.3" r="2.0"/><circle cx="1094.2" cy="148.4" r="1.9"/><circle cx="1095.6" cy="145.2" r="2.8"/><circle cx="1099.2" cy="141.7" r="3.0"/><circle cx="1101.7" cy="139.1" r="2.7"/><circle cx="1106.7" cy="136.6" r="1.7"/><circle cx="1113.5" cy="135.0" r="2.4"/><circle cx="1119.5" cy="132.2" r="2.6"/><circle cx="1124.2" cy="132.1" r="2.2"/><circle cx="1129.7" cy="133.4" r="2.3"/><circle cx="1133.4" cy="132.5" r="2.6"/><circle cx="1136.5" cy="137.4" r="2.8"/><circle cx="1137.6" cy="139.2" r="2.5"/><circle cx="1097" cy="150" r="2.4"/><circle cx="1100" cy="155" r="2.2"/><circle cx="1131" cy="146" r="2.5"/><circle cx="1134" cy="150" r="2.0"/><circle cx="1128" cy="153.5" r="1.9"/><circle cx="1104" cy="141" r="2.0"/><circle cx="1124" cy="140" r="2.2"/><circle cx="1138" cy="139" r="1.2"/><circle cx="1140" cy="142" r="1.0"/><circle cx="1111" cy="157.5" r="1.4"/><circle cx="1121" cy="157" r="1.5"/></g>
<path d="M1102,146 C1108,146.5 1112,143 1118,142.5 C1122,142 1123,139 1121,138 M1106,151 C1112,152 1115,148 1120,148 C1124,148 1122,152 1118,153 C1115,153.5 1116,150 1119,149.5 M1108,154 L1114,156.5" fill="none" stroke="#0b8284" stroke-width="0.9"/>
<path d="M1206.6,147 C1205,136 1217,128 1236,127.3 C1254,127 1264.5,132.5 1264.4,139.5 C1264.3,143 1262.8,145 1260.5,146.6 C1263,148.3 1264.8,150.5 1265,154 C1265.2,161.5 1254,167.3 1236,166.8 C1217,166 1205,158 1206.6,147Z" fill="#0b8284"/>
<ellipse cx="1235" cy="145.6" rx="28" ry="12" fill="url(#gBigHi)"/>
</g>
<use href="#glycan" transform="translate(1221.1 128.5) rotate(11.0) scale(0.830)"/>
<use href="#glycan" transform="translate(1257.5 131.3) rotate(78.7) scale(0.800)"/>
<use href="#glycan" transform="translate(1261.0 150.1) rotate(100.5) scale(0.820)"/>
<use href="#glycan" transform="translate(1224.6 167.5) rotate(195.0) scale(0.850)"/>
<use href="#glycan" transform="translate(1240.3 168.5) rotate(142.0) scale(0.860)"/>
<path d="M1288.4,55.7 L1243.8,82.1 L1288.4,107.8 Z M1274.1,82.1 L1288.4,55.7 M1274.1,82.1 L1243.8,82.1 M1274.1,82.1 L1288.4,107.8" fill="none" stroke="#595959" stroke-width="2.2" stroke-linejoin="miter"/>
<use href="#sapt" transform="translate(1288.0 55.7) rotate(201.7) scale(1.200 -1.200)" stroke="#e4843c" stroke-width="2.08"/>
<use href="#sapt" transform="translate(1274.5 82.3) rotate(7.0) scale(1.220)" stroke="#e4843c" stroke-width="2.05"/>
<use href="#sapt" transform="translate(1244.4 82.8) rotate(115.6) scale(1.130)" stroke="#e4843c" stroke-width="2.21"/>
<use href="#sapt" transform="translate(1288.3 108.6) rotate(108.0) scale(1.070 -1.070)" stroke="#e4843c" stroke-width="2.34"/>
<use href="#sapt" transform="translate(1289.0 162.7) rotate(-75.3) scale(0.960)" stroke="#e4843c" stroke-width="2.40"/>
<use href="#sapt" transform="translate(1208.0 201.5) rotate(-41.0) scale(0.880)" stroke="#e4843c" stroke-width="2.61"/>
<use href="#sapt" transform="translate(1260.9 205.5) rotate(-84.5) scale(0.800)" stroke="#e4843c" stroke-width="2.87"/>
<path d="M1191.8,201.7L1192.7,202.1L1193.7,202.4L1194.6,202.8L1195.5,203.2L1196.4,203.6L1197.4,203.9L1198.3,204.3L1199.2,204.7L1200.2,205.0L1201.1,205.3L1202.1,205.7L1203.0,205.9L1204.0,206.2L1205.0,206.4L1205.9,206.6L1206.9,206.8L1207.9,207.0L1208.9,207.2L1209.9,207.3L1210.9,207.5L1211.9,207.6L1212.9,207.6L1213.9,207.7L1214.9,207.7L1215.9,207.6L1216.9,207.5L1217.8,207.4L1218.8,207.2L1219.8,206.9L1220.8,206.7L1221.7,206.4L1222.7,206.1L1223.6,205.7L1224.6,205.4L1225.5,205.1L1226.5,204.9L1227.4,204.6L1228.4,204.4L1229.4,204.2L1230.4,204.0L1231.4,203.9L1232.4,203.7L1233.3,203.5L1234.3,203.4L1235.3,203.3L1236.3,203.2L1237.3,203.2L1238.3,203.2L1239.3,203.2L1240.3,203.3L1241.3,203.4L1242.3,203.6L1243.3,203.8L1244.3,203.9L1245.3,204.2L1246.2,204.4L1247.2,204.6L1248.2,204.8L1249.2,205.0L1250.1,205.3L1251.1,205.5L1252.1,205.7L1253.0,206.0L1254.0,206.2L1255.0,206.5L1255.9,206.8L1256.9,207.0L1257.9,207.3L1258.8,207.6L1259.8,208.0L1260.7,208.3L1261.6,208.6L1262.6,209.0L1263.5,209.3L1264.5,209.7L1265.4,210.0L1266.3,210.4L1267.2,210.8L1268.2,211.1L1269.1,211.5L1270.0,211.9L1271.0,212.2L1271.9,212.6L1272.7,212.9" fill="none" stroke="#ece5fb" stroke-width="5.2"/><path d="M1194.3,199.3L1194.5,206.2L1199.4,201.3L1199.9,208.3L1204.4,203.0L1205.7,209.8L1209.5,204.1L1211.6,210.7L1214.6,204.5L1217.9,210.6L1219.3,203.8L1223.8,209.0L1224.6,202.1L1228.8,207.6L1230.4,200.8L1234.2,206.6L1236.4,200.0L1239.2,206.4L1242.6,200.4L1244.2,207.2L1248.3,201.6L1249.6,208.4L1253.8,202.9L1254.9,209.8L1259.4,204.5L1260.0,211.4L1264.8,206.4L1265.2,213.4L1270.1,208.4L1270.4,215.4L1273.8,209.9" fill="none" stroke="#8e6be2" stroke-width="0.9" stroke-linejoin="round"/><path d="M1190.5,205.2L1195.8,199.3L1195.6,207.3L1200.9,201.3L1201.1,209.3L1205.8,202.8L1207.0,210.7L1210.9,203.7L1213.1,211.4L1215.8,203.9L1219.7,210.8L1220.4,202.8L1225.3,209.1L1225.9,201.1L1230.3,207.9L1231.8,200.0L1235.5,207.1L1237.9,199.4L1240.3,207.1L1244.2,200.1L1245.4,208.0L1249.8,201.3L1250.8,209.3L1255.4,202.7L1256.0,210.7L1261.0,204.4L1261.1,212.4L1266.4,206.4L1266.2,214.4L1271.6,208.4L1271.4,216.4" fill="none" stroke="#6b3ed2" stroke-width="2.0" stroke-linejoin="round" stroke-linecap="round"/><path d="M1190.5,205.2L1195.8,199.3L1195.6,207.3L1200.9,201.3L1201.1,209.3L1205.8,202.8L1207.0,210.7L1210.9,203.7L1213.1,211.4L1215.8,203.9L1219.7,210.8L1220.4,202.8L1225.3,209.1L1225.9,201.1L1230.3,207.9L1231.8,200.0L1235.5,207.1L1237.9,199.4L1240.3,207.1L1244.2,200.1L1245.4,208.0L1249.8,201.3L1250.8,209.3L1255.4,202.7L1256.0,210.7L1261.0,204.4L1261.1,212.4L1266.4,206.4L1266.2,214.4L1271.6,208.4L1271.4,216.4" fill="none" stroke="#e6defa" stroke-width="0.55" stroke-linejoin="round" stroke-linecap="round"/>
<use href="#sapt" transform="translate(1218.6 212.0) rotate(149.0) scale(0.800 -0.800)" stroke="#e4843c" stroke-width="2.87"/>
<use href="#sapt" transform="translate(1234.8 209.5) rotate(110.4) scale(0.750)" stroke="#e4843c" stroke-width="3.07"/>
<use href="#sapt" transform="translate(1252.8 210.5) rotate(95.0) scale(0.880)" stroke="#e4843c" stroke-width="2.61"/>
<path d="M1275,177.6 L1295.3,184.7 M1299.3,179.7 L1291.8,193.2" fill="none" stroke="#385723" stroke-width="3.3"/>
<path d="M1305.4,231.2 C1306,198 1330,163 1366.5,157 L1366.5,231.2 Z" fill="url(#gHost)"/>
<path d="M1296.5,198 C1303,199.5 1309,198.5 1311.4,194.8 L1307.6,179.9 M1311.4,194.8 L1323.4,202" fill="none" stroke="#715a9b" stroke-width="5.2" stroke-linecap="round" stroke-linejoin="round"/>
<text transform="translate(1341.5 195.8) scale(0.925 1)" font-size="17.30" text-anchor="middle">Host</text>
<text transform="translate(1341 217) scale(0.925 1)" font-size="17.30" text-anchor="middle">cell</text>
<text transform="translate(1216.5 267.1) scale(0.925 1)" font-size="17.19" text-anchor="middle">Virus inhibition</text>
<g id="cancer">
<path d="M1190,350 L1229.5,318.5 L1229.5,439.4 L1196,394 Z" fill="url(#gCone2)"/>
<path d="M1093.5,317.4 C1098.5,315.6 1105.3,319.7 1114.7,319.9 C1124.1,320.1 1134.6,318.0 1144.6,318.7 C1154.6,319.4 1161.6,320.6 1169.4,323.6 C1177.2,326.6 1182.8,329.6 1186.9,334.9 C1191.0,340.2 1189.6,345.0 1191.9,352.3 C1194.2,359.6 1198.2,366.0 1199.3,374.7 C1200.4,383.4 1199.9,391.4 1198.1,399.6 C1196.3,407.8 1194.7,413.1 1189.4,419.5 C1184.1,425.9 1178.5,430.8 1169.4,434.4 C1160.3,438.0 1149.2,437.1 1139.6,439.4 C1130.0,441.7 1125.0,445.8 1117.2,446.9 C1109.4,448.0 1102.8,445.6 1097.3,445.6 C1091.8,445.6 1090.5,449.0 1087.3,446.9 C1084.1,444.8 1084.4,439.0 1079.8,434.4 C1075.2,429.8 1066.7,427.0 1062.4,422.0 C1058.1,417.0 1056.9,412.5 1056.2,407.0 C1055.5,401.5 1060.3,398.5 1058.7,392.1 C1057.1,385.7 1049.1,377.7 1047.5,372.2 C1045.9,366.7 1046.8,365.8 1050.0,362.2 C1053.2,358.6 1059.9,355.7 1064.9,352.3 C1069.9,348.9 1073.2,347.7 1077.3,343.6 C1081.4,339.5 1084.3,334.7 1087.3,329.9 C1090.3,325.1 1088.5,319.2 1093.5,317.4Z" fill="url(#gCell)"/>
<g clip-path="url(#cellClip)"><path d="M1093.5,317.4 C1098.5,315.6 1105.3,319.7 1114.7,319.9 C1124.1,320.1 1134.6,318.0 1144.6,318.7 C1154.6,319.4 1161.6,320.6 1169.4,323.6 C1177.2,326.6 1182.8,329.6 1186.9,334.9 C1191.0,340.2 1189.6,345.0 1191.9,352.3 C1194.2,359.6 1198.2,366.0 1199.3,374.7 C1200.4,383.4 1199.9,391.4 1198.1,399.6 C1196.3,407.8 1194.7,413.1 1189.4,419.5 C1184.1,425.9 1178.5,430.8 1169.4,434.4 C1160.3,438.0 1149.2,437.1 1139.6,439.4 C1130.0,441.7 1125.0,445.8 1117.2,446.9 C1109.4,448.0 1102.8,445.6 1097.3,445.6 C1091.8,445.6 1090.5,449.0 1087.3,446.9 C1084.1,444.8 1084.4,439.0 1079.8,434.4 C1075.2,429.8 1066.7,427.0 1062.4,422.0 C1058.1,417.0 1056.9,412.5 1056.2,407.0 C1055.5,401.5 1060.3,398.5 1058.7,392.1 C1057.1,385.7 1049.1,377.7 1047.5,372.2 C1045.9,366.7 1046.8,365.8 1050.0,362.2 C1053.2,358.6 1059.9,355.7 1064.9,352.3 C1069.9,348.9 1073.2,347.7 1077.3,343.6 C1081.4,339.5 1084.3,334.7 1087.3,329.9 C1090.3,325.1 1088.5,319.2 1093.5,317.4Z" fill="none" stroke="#189af0" stroke-width="13" filter="url(#blur3)"/></g>
<path d="M1093.5,317.4 C1098.5,315.6 1105.3,319.7 1114.7,319.9 C1124.1,320.1 1134.6,318.0 1144.6,318.7 C1154.6,319.4 1161.6,320.6 1169.4,323.6 C1177.2,326.6 1182.8,329.6 1186.9,334.9 C1191.0,340.2 1189.6,345.0 1191.9,352.3 C1194.2,359.6 1198.2,366.0 1199.3,374.7 C1200.4,383.4 1199.9,391.4 1198.1,399.6 C1196.3,407.8 1194.7,413.1 1189.4,419.5 C1184.1,425.9 1178.5,430.8 1169.4,434.4 C1160.3,438.0 1149.2,437.1 1139.6,439.4 C1130.0,441.7 1125.0,445.8 1117.2,446.9 C1109.4,448.0 1102.8,445.6 1097.3,445.6 C1091.8,445.6 1090.5,449.0 1087.3,446.9 C1084.1,444.8 1084.4,439.0 1079.8,434.4 C1075.2,429.8 1066.7,427.0 1062.4,422.0 C1058.1,417.0 1056.9,412.5 1056.2,407.0 C1055.5,401.5 1060.3,398.5 1058.7,392.1 C1057.1,385.7 1049.1,377.7 1047.5,372.2 C1045.9,366.7 1046.8,365.8 1050.0,362.2 C1053.2,358.6 1059.9,355.7 1064.9,352.3 C1069.9,348.9 1073.2,347.7 1077.3,343.6 C1081.4,339.5 1084.3,334.7 1087.3,329.9 C1090.3,325.1 1088.5,319.2 1093.5,317.4Z" fill="none" stroke="#38aaf3" stroke-width="1"/>
<path d="M1109.3,375.3 A30.2,30.2 0 0 1 1163.8,372.9" fill="none" stroke="#7d5594" stroke-width="4.0" stroke-linecap="round"/><path d="M1109.3,375.3 A30.2,30.2 0 0 1 1163.8,372.9" fill="none" stroke="#b98cc6" stroke-width="2.8" stroke-linecap="round"/>
<path d="M1108.2,367.6 A34.8,34.8 0 0 1 1166.6,368.7" fill="none" stroke="#7d5594" stroke-width="4.0" stroke-linecap="round"/><path d="M1108.2,367.6 A34.8,34.8 0 0 1 1166.6,368.7" fill="none" stroke="#b98cc6" stroke-width="2.8" stroke-linecap="round"/>
<path d="M1110.3,358.4 A39.3,39.3 0 0 1 1166.8,361.3" fill="none" stroke="#7d5594" stroke-width="3.8" stroke-linecap="round"/><path d="M1110.3,358.4 A39.3,39.3 0 0 1 1166.8,361.3" fill="none" stroke="#b98cc6" stroke-width="2.6" stroke-linecap="round"/>
<path d="M1115.3,349.3 A43.6,43.6 0 0 1 1163.9,352.7" fill="none" stroke="#7d5594" stroke-width="3.5999999999999996" stroke-linecap="round"/><path d="M1115.3,349.3 A43.6,43.6 0 0 1 1163.9,352.7" fill="none" stroke="#b98cc6" stroke-width="2.4" stroke-linecap="round"/>
<path d="M1142.9,416.7 A30.2,30.2 0 0 1 1107.3,391.8" fill="none" stroke="#7d5594" stroke-width="4.0" stroke-linecap="round"/><path d="M1142.9,416.7 A30.2,30.2 0 0 1 1107.3,391.8" fill="none" stroke="#b98cc6" stroke-width="2.8" stroke-linecap="round"/>
<path d="M1138.9,421.7 A34.6,34.6 0 0 1 1106.0,402.3" fill="none" stroke="#7d5594" stroke-width="3.8" stroke-linecap="round"/><path d="M1138.9,421.7 A34.6,34.6 0 0 1 1106.0,402.3" fill="none" stroke="#b98cc6" stroke-width="2.6" stroke-linecap="round"/>
<path d="M1135.7,425.9 A38.8,38.8 0 0 1 1107.8,412.6" fill="none" stroke="#7d5594" stroke-width="3.5999999999999996" stroke-linecap="round"/><path d="M1135.7,425.9 A38.8,38.8 0 0 1 1107.8,412.6" fill="none" stroke="#b98cc6" stroke-width="2.4" stroke-linecap="round"/>
<circle cx="1155" cy="334.8" r="1.6" fill="#b98cc6" stroke="#7d5594" stroke-width="0.7"/>
<circle cx="1158.5" cy="342.5" r="1.5" fill="#b98cc6" stroke="#7d5594" stroke-width="0.7"/>
<circle cx="1122" cy="431" r="1.4" fill="#b98cc6" stroke="#7d5594" stroke-width="0.7"/>
<circle cx="1163" cy="352" r="1.3" fill="#b98cc6" stroke="#7d5594" stroke-width="0.7"/>
<circle cx="1129" cy="426.5" r="1.0" fill="#b98cc6" stroke="#7d5594" stroke-width="0.7"/>
<circle cx="1136" cy="422.5" r="1.1" fill="#b98cc6" stroke="#7d5594" stroke-width="0.7"/>
<circle cx="1137.1" cy="387.1" r="26.2" fill="url(#gNuc)"/>
<path d="M1119.5,388 C1119.5,380 1123,374.5 1128.8,372" fill="none" stroke="#e8f4ff" stroke-width="1.1" stroke-linecap="round"/>
<g fill="none" stroke="#5a5f95" stroke-width="2.4" stroke-linecap="round"><path d="M1075.7,370.2 C1073.5,374 1072.5,382 1071.0,386.8" /><path d="M1079.0,369.3 C1076.8,374 1075.8,382 1074.3,387.7" /><path d="M1082.3,368.4 C1080.1,374 1079.1,382 1077.6,388.6" /><path d="M1085.6,367.5 C1083.4,374 1082.4,382 1080.9,389.5" /><path d="M1088.9,368.4 C1086.7,374 1085.7,382 1084.2,388.6" /><path d="M1092.2,369.3 C1090.0,374 1089.0,382 1087.5,387.7" /><path d="M1095.5,370.2 C1093.3,374 1092.3,382 1090.8,386.8" /></g>
<path d="M1100.5,357 C1100,361 1100.5,364 1101.8,366.5" fill="none" stroke="#50558c" stroke-width="1.6" stroke-linecap="round"/>
<ellipse cx="1091.2" cy="417.2" rx="7.4" ry="11.8" fill="#a3776a" stroke="#b98f84" stroke-width="0.8" transform="rotate(-22 1091.2 417.2)"/>
<ellipse cx="1170.2" cy="409.6" rx="10" ry="9" fill="#87564e" stroke="#a57a70" stroke-width="1" transform="rotate(-35 1170.2 409.6)"/>
<ellipse cx="1169.5" cy="408.6" rx="7.6" ry="5.6" fill="#976a60" transform="rotate(-35 1169.5 408.6)"/>
<circle cx="1170.7" cy="383.9" r="7" fill="#b9a600"/>
<rect x="1229.1" y="318.5" width="32.9" height="121" rx="4" fill="#7fd0ff"/>
<path d="M1240,323.7 H1250.5 M1240,326.7 H1250.5" stroke="#1f8ac6" stroke-width="0.9" fill="none"/><circle cx="1234.9" cy="325.2" r="5.2" fill="url(#gBall)" stroke="#1585c5" stroke-width="1"/><circle cx="1255.6" cy="325.2" r="5.2" fill="url(#gBall)" stroke="#1585c5" stroke-width="1"/><path d="M1240,334.6 H1250.5 M1240,337.6 H1250.5" stroke="#1f8ac6" stroke-width="0.9" fill="none"/><circle cx="1234.9" cy="336.1" r="5.2" fill="url(#gBall)" stroke="#1585c5" stroke-width="1"/><circle cx="1255.6" cy="336.1" r="5.2" fill="url(#gBall)" stroke="#1585c5" stroke-width="1"/><path d="M1240,345.5 H1250.5 M1240,348.5 H1250.5" stroke="#1f8ac6" stroke-width="0.9" fill="none"/><circle cx="1234.9" cy="347.0" r="5.2" fill="url(#gBall)" stroke="#1585c5" stroke-width="1"/><circle cx="1255.6" cy="347.0" r="5.2" fill="url(#gBall)" stroke="#1585c5" stroke-width="1"/><path d="M1240,356.4 H1250.5 M1240,359.4 H1250.5" stroke="#1f8ac6" stroke-width="0.9" fill="none"/><circle cx="1234.9" cy="357.9" r="5.2" fill="url(#gBall)" stroke="#1585c5" stroke-width="1"/><circle cx="1255.6" cy="357.9" r="5.2" fill="url(#gBall)" stroke="#1585c5" stroke-width="1"/><path d="M1240,367.3 H1250.5 M1240,370.3 H1250.5" stroke="#1f8ac6" stroke-width="0.9" fill="none"/><circle cx="1234.9" cy="368.8" r="5.2" fill="url(#gBall)" stroke="#1585c5" stroke-width="1"/><circle cx="1255.6" cy="368.8" r="5.2" fill="url(#gBall)" stroke="#1585c5" stroke-width="1"/><path d="M1240,378.1 H1250.5 M1240,381.1 H1250.5" stroke="#1f8ac6" stroke-width="0.9" fill="none"/><circle cx="1234.9" cy="379.6" r="5.2" fill="url(#gBall)" stroke="#1585c5" stroke-width="1"/><circle cx="1255.6" cy="379.6" r="5.2" fill="url(#gBall)" stroke="#1585c5" stroke-width="1"/><path d="M1240,389.0 H1250.5 M1240,392.0 H1250.5" stroke="#1f8ac6" stroke-width="0.9" fill="none"/><circle cx="1234.9" cy="390.5" r="5.2" fill="url(#gBall)" stroke="#1585c5" stroke-width="1"/><circle cx="1255.6" cy="390.5" r="5.2" fill="url(#gBall)" stroke="#1585c5" stroke-width="1"/><path d="M1240,399.9 H1250.5 M1240,402.9 H1250.5" stroke="#1f8ac6" stroke-width="0.9" fill="none"/><circle cx="1234.9" cy="401.4" r="5.2" fill="url(#gBall)" stroke="#1585c5" stroke-width="1"/><circle cx="1255.6" cy="401.4" r="5.2" fill="url(#gBall)" stroke="#1585c5" stroke-width="1"/><path d="M1240,410.8 H1250.5 M1240,413.8 H1250.5" stroke="#1f8ac6" stroke-width="0.9" fill="none"/><circle cx="1234.9" cy="412.3" r="5.2" fill="url(#gBall)" stroke="#1585c5" stroke-width="1"/><circle cx="1255.6" cy="412.3" r="5.2" fill="url(#gBall)" stroke="#1585c5" stroke-width="1"/><path d="M1240,421.7 H1250.5 M1240,424.7 H1250.5" stroke="#1f8ac6" stroke-width="0.9" fill="none"/><circle cx="1234.9" cy="423.2" r="5.2" fill="url(#gBall)" stroke="#1585c5" stroke-width="1"/><circle cx="1255.6" cy="423.2" r="5.2" fill="url(#gBall)" stroke="#1585c5" stroke-width="1"/><path d="M1240,432.6 H1250.5 M1240,435.6 H1250.5" stroke="#1f8ac6" stroke-width="0.9" fill="none"/><circle cx="1234.9" cy="434.1" r="5.2" fill="url(#gBall)" stroke="#1585c5" stroke-width="1"/><circle cx="1255.6" cy="434.1" r="5.2" fill="url(#gBall)" stroke="#1585c5" stroke-width="1"/>
<path d="M1227,355 C1226,347 1236,343 1248,342 C1256,341.5 1262,345 1263.8,352 C1264.5,358 1261,364 1253,365.5 C1244,366 1229,364 1227,355Z" fill="url(#gProt)" stroke="#b7b4f6" stroke-width="0.8"/>
<path d="M1249,424.5 C1247,419 1252,407 1259,399.5 C1263,395.5 1267.5,394 1267.8,396.5 C1268.5,402 1266.5,408 1261,412.5 C1256,417 1252,425 1249,424.5Z" fill="url(#gProt)" stroke="#b7b4f6" stroke-width="0.8"/>
<use href="#glycan" transform="translate(1262.7 344.4) rotate(59.0) scale(0.950)"/>
<use href="#glycan" transform="translate(1264.7 360.7) rotate(120.0) scale(0.950)"/>
<use href="#glycan" transform="translate(1263.5 411.5) rotate(120.0) scale(0.950)"/>
<path d="M1323.5,352.5L1323.9,353.4L1324.2,354.4L1324.6,355.3L1325.0,356.2L1325.3,357.2L1325.7,358.1L1326.0,359.0L1326.3,360.0L1326.7,360.9L1327.0,361.9L1327.3,362.8L1327.6,363.8L1328.0,364.7L1328.3,365.6L1328.7,366.6L1329.0,367.5L1329.4,368.4L1329.7,369.4L1330.0,370.3L1330.3,371.3L1330.6,372.3L1330.8,373.2L1331.0,374.2L1331.1,375.2L1331.2,376.2L1331.2,377.2L1331.2,378.2L1331.1,379.2L1330.9,380.2L1330.8,381.2L1330.6,382.2L1330.3,383.1L1330.1,384.1L1329.8,385.1L1329.5,386.0L1329.2,387.0L1328.9,387.9L1328.6,388.9L1328.3,389.8L1328.0,390.8L1327.7,391.7L1327.4,392.7L1327.1,393.7L1326.8,394.6L1326.5,395.6L1326.2,396.5L1325.9,397.5L1325.5,398.4L1325.2,399.3L1324.8,400.3L1324.5,401.2L1324.1,402.1L1323.8,403.1L1323.4,404.0L1323.1,404.9L1322.7,405.9L1322.4,406.8L1322.1,407.8L1321.8,408.8L1321.6,409.7L1321.4,410.7L1321.2,411.7L1321.0,412.7L1321.0,413.7L1320.9,414.7L1320.9,415.7L1321.0,416.7L1321.1,417.7L1321.3,418.6L1321.5,419.6L1321.7,420.6L1322.0,421.6L1322.2,422.5L1322.5,423.5L1322.8,424.4L1323.2,425.4L1323.5,426.3L1323.8,427.3L1324.1,428.2L1324.4,429.2L1324.7,430.1L1325.1,431.1L1325.5,432.0L1325.9,432.9L1326.3,433.8L1326.7,434.7L1327.2,435.6L1327.6,436.5L1328.0,437.4L1328.4,438.3L1328.8,439.2L1329.2,440.2L1329.5,441.1L1329.8,442.1L1330.1,443.0L1330.4,444.0L1330.6,445.0L1330.8,446.0L1331.0,446.9L1331.1,447.9L1331.3,448.9L1331.5,449.9L1331.5,450.0" fill="none" stroke="#ece5fb" stroke-width="5.6"/><path d="M1327.2,352.6L1321.9,357.6L1329.2,357.9L1323.7,362.7L1331.0,363.1L1325.6,368.2L1333.0,368.5L1327.3,373.1L1334.5,374.7L1327.8,377.6L1334.2,381.2L1327.0,382.5L1332.8,387.0L1325.4,387.6L1331.0,392.4L1323.7,393.1L1329.3,397.8L1322.0,398.1L1327.4,403.2L1320.0,403.4L1325.5,408.2L1318.2,409.1L1324.4,413.0L1317.5,415.6L1324.6,417.7L1318.5,421.9L1325.8,422.6L1320.2,427.4L1327.5,427.9L1322.2,432.9L1329.6,432.7L1324.6,438.1L1332.0,437.9L1326.5,442.9L1333.8,443.8L1327.7,447.9L1334.8,449.3L1328.2,450.7" fill="none" stroke="#8e6be2" stroke-width="0.9" stroke-linejoin="round"/><path d="M1319.8,353.9L1328.2,353.6L1321.8,359.1L1330.2,359.1L1323.6,364.3L1332.1,364.2L1325.5,369.6L1334.0,369.8L1326.9,374.4L1335.2,376.3L1327.1,378.7L1334.5,382.8L1326.1,383.6L1332.9,388.6L1324.4,388.8L1331.2,393.8L1322.8,394.2L1329.4,399.4L1320.9,399.2L1327.4,404.7L1319.0,404.6L1325.7,409.6L1317.3,410.5L1324.9,414.2L1317.1,417.2L1325.4,418.8L1318.4,423.5L1326.8,423.8L1320.1,428.8L1328.5,428.9L1322.2,434.5L1330.7,433.7L1324.6,439.6L1333.1,439.2L1326.3,444.2L1334.7,445.2L1327.3,449.4L1335.4,449.2" fill="none" stroke="#6b3ed2" stroke-width="2.0" stroke-linejoin="round" stroke-linecap="round"/><path d="M1319.8,353.9L1328.2,353.6L1321.8,359.1L1330.2,359.1L1323.6,364.3L1332.1,364.2L1325.5,369.6L1334.0,369.8L1326.9,374.4L1335.2,376.3L1327.1,378.7L1334.5,382.8L1326.1,383.6L1332.9,388.6L1324.4,388.8L1331.2,393.8L1322.8,394.2L1329.4,399.4L1320.9,399.2L1327.4,404.7L1319.0,404.6L1325.7,409.6L1317.3,410.5L1324.9,414.2L1317.1,417.2L1325.4,418.8L1318.4,423.5L1326.8,423.8L1320.1,428.8L1328.5,428.9L1322.2,434.5L1330.7,433.7L1324.6,439.6L1333.1,439.2L1326.3,444.2L1334.7,445.2L1327.3,449.4L1335.4,449.2" fill="none" stroke="#e6defa" stroke-width="0.55" stroke-linejoin="round" stroke-linecap="round"/>
<use href="#sapt" transform="translate(1309.5 334.5) rotate(-106.0) scale(1.120)" stroke="#e4843c" stroke-width="1.92"/>
<use href="#sapt" transform="translate(1325.0 375.0) rotate(201.0) scale(1.000 -1.000)" stroke="#e4843c" stroke-width="2.15"/>
<use href="#sapt" transform="translate(1333.0 380.5) rotate(-34.0) scale(1.050)" stroke="#e4843c" stroke-width="2.05"/>
<use href="#sapt" transform="translate(1326.0 416.0) rotate(-24.0) scale(1.100)" stroke="#e4843c" stroke-width="1.95"/>
<use href="#sapt" transform="translate(1320.0 411.0) rotate(168.0) scale(1.100 -1.100)" stroke="#e4843c" stroke-width="1.95"/>
<use href="#sapt" transform="translate(1321.5 434.0) rotate(152.0) scale(1.000 -1.000)" stroke="#e4843c" stroke-width="2.15"/>
</g>
<text transform="translate(1216.1 486.5) scale(0.925 1)" font-size="17.16" text-anchor="middle">Cancer targeting</text>
<g id="legend">
<use href="#mipL" transform="translate(85.7 586.2) scale(1.090)"/>
<text transform="translate(123.3 595.7) scale(0.925 1)" font-size="16.76" text-anchor="start">MIP</text>
<ellipse cx="188.6" cy="589.1" rx="7.7" ry="15.2" fill="url(#gRnase)"/>
<text transform="translate(274.6 585.4) scale(0.925 1)" font-size="16.76" text-anchor="middle">Nonglycosylated</text>
<text transform="translate(274.4 604.3) scale(0.925 1)" font-size="16.76" text-anchor="middle">RNase</text>
<use href="#glycan" transform="translate(375.9 617.3)"/>
<text transform="translate(409.3 594.7) scale(0.925 1)" font-size="16.76" text-anchor="start">High mannose glycans</text>
<path d="M0.00,0.00 L-2.38,-6.21 C-3.69,-10.06 -3.20,-12.45 -0.29,-14.02 M-0.89,-23.68 C-4.27,-24.36 -7.21,-23.63 -6.81,-21.41 C-6.54,-19.25 -3.07,-15.66 -1.06,-13.95 C1.70,-13.54 4.21,-14.05 5.09,-16.93 C5.96,-19.81 3.04,-22.42 -0.89,-23.68Z M-1.93,-27.41 C-1.44,-29.23 1.69,-29.47 4.50,-28.46 C7.63,-27.24 7.34,-24.75 4.69,-24.30 C1.61,-23.79 -2.29,-25.12 -1.93,-27.41Z M4.50,-28.63 C3.83,-33.01 6.84,-37.39 10.37,-36.14 C14.14,-34.14 11.78,-30.13 5.04,-28.39Z M0.46,-12.05 C1.67,-11.10 2.58,-9.47 2.20,-8.42 L0.79,-8.55" transform="translate(606.9 605.6)" fill="none" stroke="#e4843c" stroke-width="2.1" stroke-linecap="round" stroke-linejoin="round"/>
<text transform="translate(630.7 595.8) scale(0.925 1)" font-size="16.76" text-anchor="start">Aptamer</text>
<path d="M738.8,558.5L738.6,559.5L738.5,560.5L738.3,561.5L738.1,562.4L738.0,563.4L737.8,564.4L737.6,565.4L737.4,566.4L737.2,567.4L737.1,568.3L736.9,569.3L736.7,570.3L736.4,571.3L736.2,572.3L736.0,573.2L735.7,574.2L735.4,575.2L735.2,576.1L734.9,577.1L734.6,578.0L734.3,579.0L734.0,580.0L733.8,580.9L733.5,581.9L733.3,582.9L733.0,583.8L732.8,584.8L732.6,585.8L732.3,586.7L732.1,587.7L731.8,588.7L731.6,589.7L731.4,590.6L731.2,591.6L731.0,592.6L730.9,593.6L730.8,594.6L730.8,595.6L730.8,596.6L730.9,597.6L731.1,598.6L731.3,599.6L731.5,600.5L731.7,601.5L732.0,602.5L732.3,603.4L732.6,604.4L732.9,605.3L733.1,606.3L733.3,607.3L733.5,608.3L733.7,609.2L733.9,610.2L734.1,611.2L734.2,612.2L734.4,613.2L734.5,614.2L734.7,615.2L734.8,616.2L734.9,617.1L735.1,618.1L735.2,619.0" fill="none" stroke="#ece5fb" stroke-width="4.3"/><path d="M741.2,560.2L735.6,561.8L740.3,565.1L734.7,566.6L739.4,570.1L733.7,571.4L738.2,575.1L732.4,576.1L736.8,580.0L731.0,581.0L735.5,584.7L729.8,585.9L734.3,589.5L728.7,590.9L733.5,594.1L728.2,596.4L733.7,598.3L729.1,601.9L734.9,602.9L730.5,606.7L736.2,608.0L731.4,611.4L737.0,613.0L732.1,616.3L737.7,618.0L732.6,619.4" fill="none" stroke="#8e6be2" stroke-width="0.85" stroke-linejoin="round"/><path d="M735.7,557.9L741.4,561.5L734.9,562.9L740.6,566.4L734.0,567.7L739.6,571.5L733.0,572.4L738.3,576.5L731.6,577.2L736.9,581.3L730.3,582.1L735.7,586.0L729.1,587.0L734.5,590.8L728.0,592.2L733.9,595.2L727.8,598.0L734.4,599.3L729.0,603.3L735.7,604.0L730.3,607.9L736.9,609.2L731.1,612.7L737.6,614.2L731.9,617.6L738.3,618.5" fill="none" stroke="#6b3ed2" stroke-width="1.95" stroke-linejoin="round" stroke-linecap="round"/><path d="M735.7,557.9L741.4,561.5L734.9,562.9L740.6,566.4L734.0,567.7L739.6,571.5L733.0,572.4L738.3,576.5L731.6,577.2L736.9,581.3L730.3,582.1L735.7,586.0L729.1,587.0L734.5,590.8L728.0,592.2L733.9,595.2L727.8,598.0L734.4,599.3L729.0,603.3L735.7,604.0L730.3,607.9L736.9,609.2L731.1,612.7L737.6,614.2L731.9,617.6L738.3,618.5" fill="none" stroke="#e6defa" stroke-width="0.50" stroke-linejoin="round" stroke-linecap="round"/>
<use href="#sapt" transform="translate(734.8 569.8) rotate(196.0) scale(0.660 -0.660)" stroke="#e4843c" stroke-width="3.26"/>
<use href="#sapt" transform="translate(741.0 574.5) rotate(-16.0) scale(0.660)" stroke="#e4843c" stroke-width="3.26"/>
<use href="#sapt" transform="translate(732.2 590.3) rotate(194.0) scale(0.700 -0.700)" stroke="#e4843c" stroke-width="3.07"/>
<use href="#sapt" transform="translate(736.5 601.0) rotate(-14.0) scale(0.660)" stroke="#e4843c" stroke-width="3.26"/>
<use href="#sapt" transform="translate(730.8 613.8) rotate(194.0) scale(0.680 -0.680)" stroke="#e4843c" stroke-width="3.16"/>
<text transform="translate(772.8 595.8) scale(0.925 1)" font-size="16.76" text-anchor="start">PAP</text>
<g transform="translate(812.77 546.6) scale(0.9)"><path d="M54.7,35 L33,72.8 L78.5,72.8 Z M54.7,35 L54.7,61.4 M33,72.8 L54.7,61.4 M78.5,72.8 L54.7,61.4" fill="none" stroke="#7f7f7f" stroke-width="2.9" stroke-linejoin="miter"/><use href="#sapt" transform="translate(55.2 60.9) rotate(-27.0) scale(0.740)" stroke="#f4b183" stroke-width="4.05"/><use href="#sapt" transform="translate(54.7 34.5) rotate(-74.5) scale(0.960)" stroke="#e4843c" stroke-width="2.50"/><use href="#sapt" transform="translate(32.5 73.3) rotate(170.5) scale(0.980 -0.980)" stroke="#e4843c" stroke-width="2.45"/><use href="#sapt" transform="translate(79.0 72.3) rotate(21.5) scale(0.980)" stroke="#e4843c" stroke-width="2.45"/></g>
<text transform="translate(911.3 595.8) scale(0.925 1)" font-size="16.76" text-anchor="start">AP-TDN</text>
<path d="M1000.6,577.3 C1001.5,584 1006,588.5 1011.9,589.2 C1017.8,588.5 1021.5,584 1022.4,577.3 M1011.9,589 L1011.9,602" fill="none" stroke="#715a9b" stroke-width="6" stroke-linecap="round" stroke-linejoin="round"/>
<text transform="translate(1040.9 594.9) scale(0.925 1)" font-size="16.76" text-anchor="start">Receptor protein</text>
<path d="M1197.2,583 V597 M1200.3999999999999,583 V597" stroke="#1585c5" stroke-width="1" fill="none"/><path d="M1210.9,583 V597 M1214.1,583 V597" stroke="#1585c5" stroke-width="1" fill="none"/><path d="M1224.8000000000002,583 V597 M1228.0,583 V597" stroke="#1585c5" stroke-width="1" fill="none"/><path d="M1237.8000000000002,583 V597 M1241.0,583 V597" stroke="#1585c5" stroke-width="1" fill="none"/><circle cx="1198.8" cy="577" r="6.3" fill="url(#gBall)" stroke="#1585c5" stroke-width="1.3"/><circle cx="1198.8" cy="603" r="6.3" fill="url(#gBall)" stroke="#1585c5" stroke-width="1.3"/><circle cx="1212.5" cy="577" r="6.3" fill="url(#gBall)" stroke="#1585c5" stroke-width="1.3"/><circle cx="1212.5" cy="603" r="6.3" fill="url(#gBall)" stroke="#1585c5" stroke-width="1.3"/><circle cx="1226.4" cy="577" r="6.3" fill="url(#gBall)" stroke="#1585c5" stroke-width="1.3"/><circle cx="1226.4" cy="603" r="6.3" fill="url(#gBall)" stroke="#1585c5" stroke-width="1.3"/><circle cx="1239.4" cy="577" r="6.3" fill="url(#gBall)" stroke="#1585c5" stroke-width="1.3"/><circle cx="1239.4" cy="603" r="6.3" fill="url(#gBall)" stroke="#1585c5" stroke-width="1.3"/>
<ellipse cx="1217.1" cy="588.6" rx="7.2" ry="18" fill="url(#gProt)" stroke="#b4b0f4" stroke-width="0.8"/>
<text transform="translate(1301.7 585.4) scale(0.925 1)" font-size="16.76" text-anchor="middle">Cell</text>
<text transform="translate(1304.3 604.2) scale(0.925 1)" font-size="16.76" text-anchor="middle">membrane</text>
</g>
</svg>
</body></html>
